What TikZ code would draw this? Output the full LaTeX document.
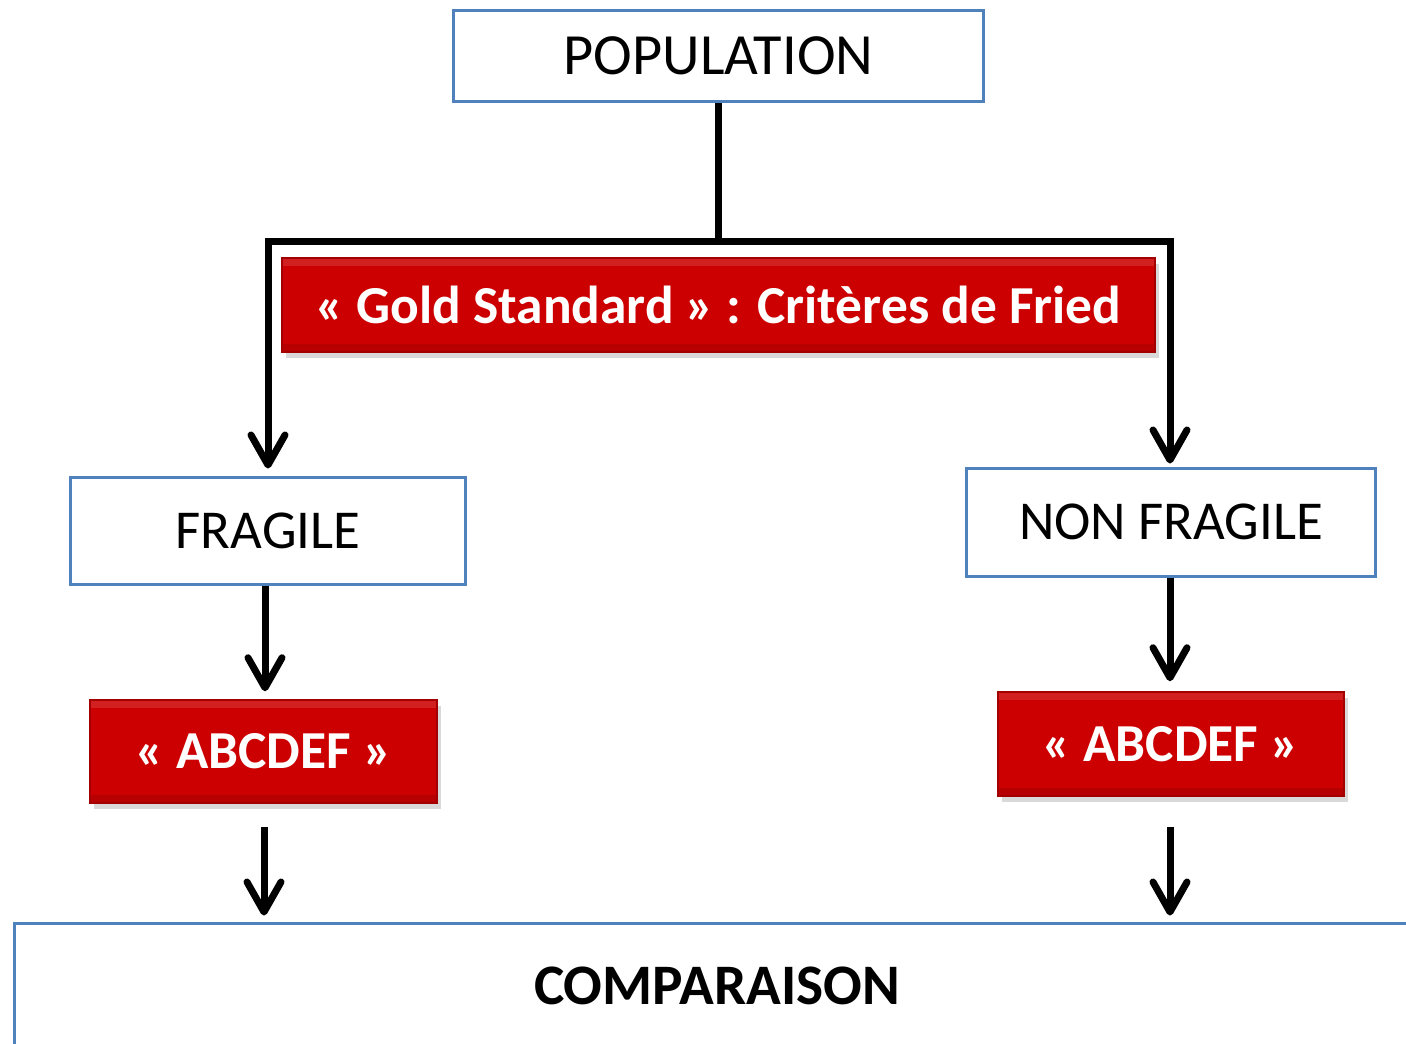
\documentclass[tikz,border=0pt]{standalone}
\usepackage{fontspec}
\setmainfont{Carlito}
\usetikzlibrary{arrows.meta,shadows}

\tikzset{
  bluebox/.style={draw=boxblue, line width=0.3mm, fill=white, inner sep=0pt,
    font=\fontsize{16.6}{20}\selectfont},
  redbox/.style={draw=boxred!80!black, line width=0.15mm, fill=boxred, inner sep=0pt,
    drop shadow={opacity=0.3, shadow xshift=0.4mm, shadow yshift=-0.6mm},
    path picture={
      \fill[white, opacity=0.12] (path picture bounding box.north west)
        rectangle ([yshift=-0.8mm]path picture bounding box.north east);
      \fill[black, opacity=0.1] (path picture bounding box.south west)
        rectangle ([yshift=0.8mm]path picture bounding box.south east);},
    text=white, font=\fontsize{15.2}{18}\selectfont\bfseries},
  link/.style={line width=0.7mm},
  arr/.style={link, -{Straight Barb[length=3mm, width=3.4mm, line width=0.7mm, round]}}
}

\begin{document}
\begin{tikzpicture}[x=0.1mm, y=-0.1mm]
        %colores
        \definecolor{boxblue}{RGB}{79,129,189}
        \definecolor{boxred}{RGB}{204,0,0}
        % marco
        \useasboundingbox (0,0) rectangle (1406,1044);
        \clip (0,0) rectangle (1406,1044);

        % Cajas
        \node[bluebox, minimum width=53.1mm, minimum height=9.2mm] (pop) at (718.5,56) {POPULATION};
        \node[redbox, minimum width=87.3mm, minimum height=9.4mm] (gold) at (718.5,305)
            {« Gold Standard » : Critères de Fried};
        \node[bluebox, minimum width=39.6mm, minimum height=10.7mm, font=\fontsize{15.6}{19}\selectfont]
            (frag) at (268,530.5) {FRAGILE};
        \node[bluebox, minimum width=41mm, minimum height=10.8mm, font=\fontsize{15.6}{19}\selectfont]
            (nonfrag) at (1171,522) {NON FRAGILE};
        \node[redbox, minimum width=34.7mm, minimum height=10.3mm] (abcL) at (263.5,751.5) {« ABCDEF »};
        \node[redbox, minimum width=34.6mm, minimum height=10.4mm] (abcR) at (1171,744) {« ABCDEF »};
        \node[bluebox, minimum width=140.6mm, minimum height=12.6mm, font=\fontsize{16.3}{20}\selectfont\bfseries]
            (comp) at (717,986) {COMPARAISON};

        % Reparto
        \coordinate (jl) at (268,241);
        \coordinate (jr) at (1170,241);
        \draw[link] (pop.south) -- (pop.south |- jl);
        \draw[link, line cap=rect] (jl) -- (jr);
        \draw[arr, shorten >=0.7mm] (jl) -- (frag.north);
        \draw[arr, shorten >=0.3mm] (jr) -- (jr |- nonfrag.north);

        % Flechas abajo
        \draw[arr, shorten >=0.8mm] (frag.south -| 265,0) -- (abcL.north -| 265,0);
        \draw[arr, shorten >=1mm] (nonfrag.south -| 1170,0) -- (abcR.north -| 1170,0);
        \draw[arr, shorten <=2.3mm, shorten >=0.6mm] (abcL.south -| 264,0) -- (comp.north -| 264,0);
        \draw[arr, shorten <=3mm, shorten >=0.6mm] (abcR.south -| 1170,0) -- (comp.north -| 1170,0);
    \end{tikzpicture}
\end{document}
